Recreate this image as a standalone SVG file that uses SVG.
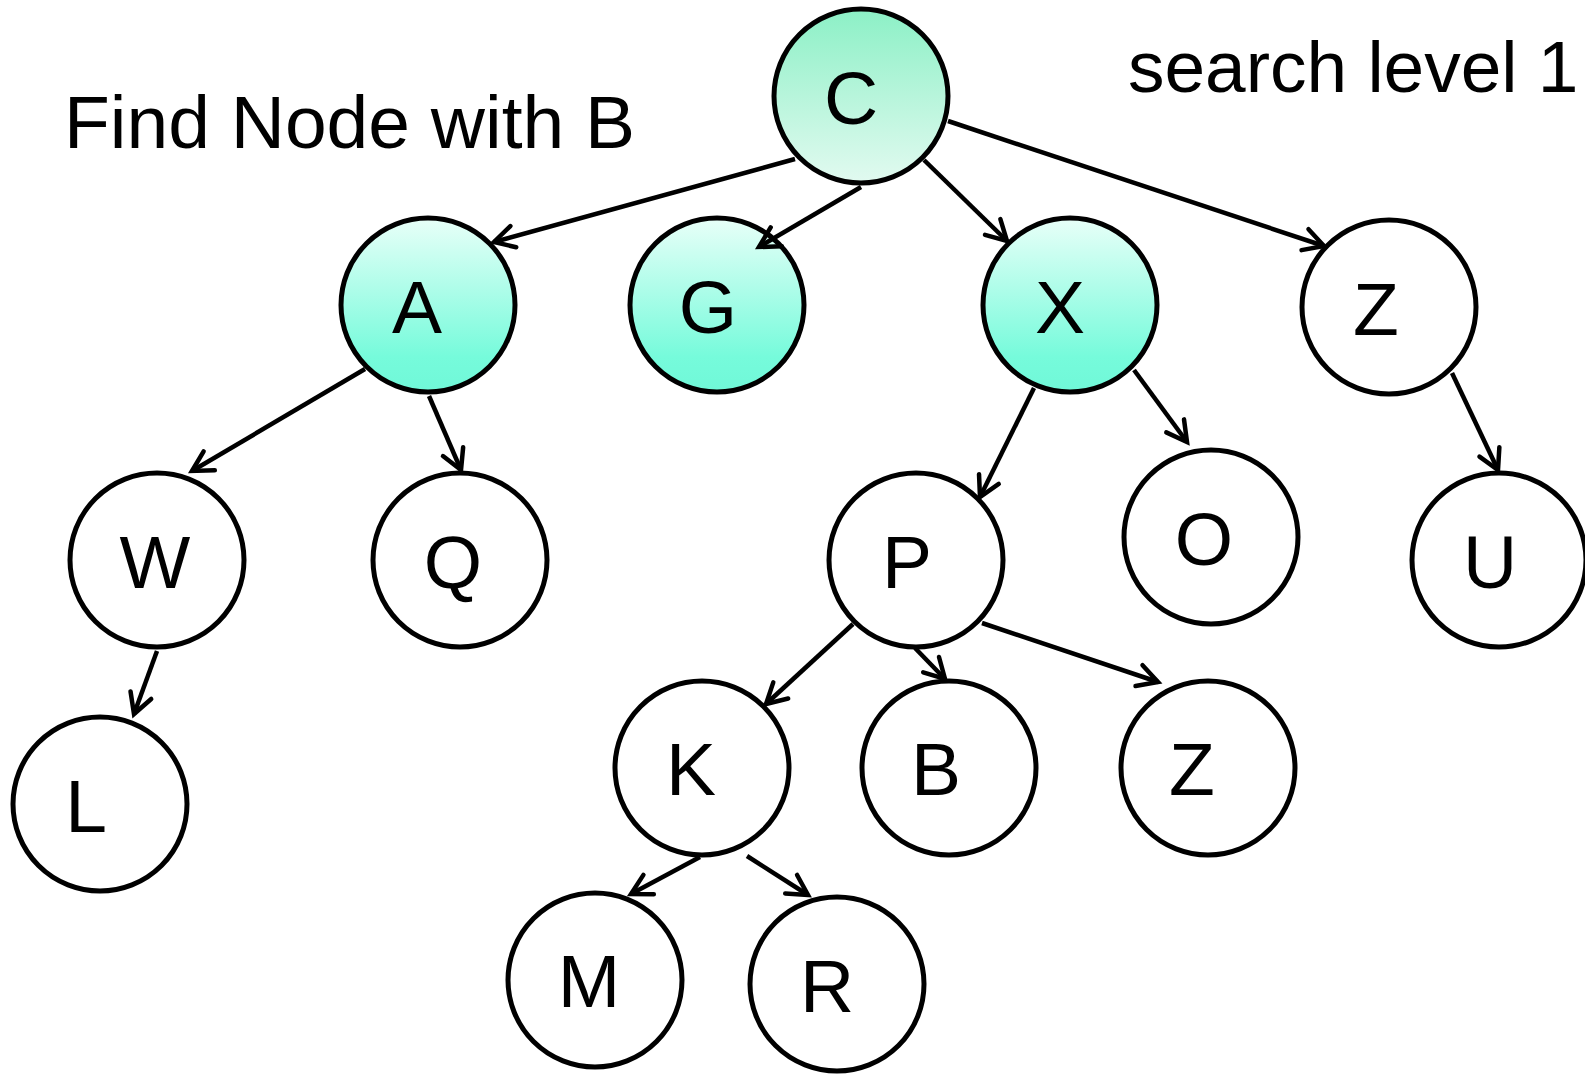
<svg xmlns="http://www.w3.org/2000/svg" width="1585" height="1077" viewBox="0 0 1585 1077">
  <style>
    .node circle { stroke: #000; stroke-width: 5; fill: #fff; }
    .node text, .label { font-family: "Liberation Sans", Arial, sans-serif; font-size: 75px; fill: #000; }
    .node text { text-anchor: middle; }
    .label.small { font-size: 73px; }
    .edges line { stroke: #000; stroke-width: 4.5; marker-end: url(#arr); }
    .root circle { fill: url(#rootFill); }
    .lvl1 circle { fill: url(#lvl1Fill); }
  </style>
  <defs>
    <linearGradient id="rootFill" x1="0" y1="0" x2="0" y2="1">
      <stop offset="0" stop-color="#8cf0c6"/>
      <stop offset="1" stop-color="#e2faf0"/>
    </linearGradient>
    <linearGradient id="lvl1Fill" x1="0" y1="0" x2="0" y2="1">
      <stop offset="0" stop-color="#e8fff8"/>
      <stop offset="0.8" stop-color="#76fbdb"/>
      <stop offset="1" stop-color="#70f8d8"/>
    </linearGradient>
    <marker id="arr" markerUnits="userSpaceOnUse" orient="auto" overflow="visible" markerWidth="1" markerHeight="1">
      <path d="M-20,-11 L0,0 L-20,11" fill="none" stroke="#000" stroke-width="4.5" stroke-linecap="round"/>
    </marker>
  </defs>

  <rect width="1585" height="1077" fill="#fff"/>

  <text class="label" x="64" y="148">Find Node with B</text>
  <text class="label small" x="1128" y="92">search level 1</text>

  <!-- tree nodes -->
  <g id="node-C" class="node root"><circle cx="861" cy="96" r="87"/><text x="851" y="124">C</text></g>
  <g id="node-A" class="node lvl1"><circle cx="428" cy="305" r="87"/><text x="417" y="333">A</text></g>
  <g id="node-G" class="node lvl1"><circle cx="717" cy="305" r="87"/><text x="708" y="333">G</text></g>
  <g id="node-X" class="node lvl1"><circle cx="1070" cy="305" r="87"/><text x="1060" y="333">X</text></g>
  <g id="node-Z1" class="node"><circle cx="1389" cy="307" r="87"/><text x="1376" y="335">Z</text></g>
  <g id="node-W" class="node"><circle cx="157" cy="560" r="87"/><text x="155" y="588">W</text></g>
  <g id="node-Q" class="node"><circle cx="460" cy="560" r="87"/><text x="453" y="588">Q</text></g>
  <g id="node-L" class="node"><circle cx="100" cy="804" r="87"/><text x="86" y="832">L</text></g>
  <g id="node-P" class="node"><circle cx="916" cy="560" r="87"/><text x="907" y="588">P</text></g>
  <g id="node-O" class="node"><circle cx="1211" cy="537" r="87"/><text x="1204" y="565">O</text></g>
  <g id="node-U" class="node"><circle cx="1499" cy="560" r="87"/><text x="1490" y="588">U</text></g>
  <g id="node-K" class="node"><circle cx="702" cy="768" r="87"/><text x="691" y="795">K</text></g>
  <g id="node-B" class="node"><circle cx="949" cy="768" r="87"/><text x="936" y="795">B</text></g>
  <g id="node-Z2" class="node"><circle cx="1208" cy="768" r="87"/><text x="1192" y="795">Z</text></g>
  <g id="node-M" class="node"><circle cx="595" cy="980" r="87"/><text x="589" y="1007">M</text></g>
  <g id="node-R" class="node"><circle cx="837" cy="984" r="87"/><text x="827" y="1012">R</text></g>

  <!-- parent to child connectors -->
  <g id="edges" class="edges">
    <line x1="795" y1="159" x2="494" y2="242"/>
    <line x1="861" y1="187" x2="759" y2="247"/>
    <line x1="924" y1="160" x2="1007" y2="241"/>
    <line x1="948" y1="121" x2="1324" y2="246"/>
    <line x1="365" y1="369" x2="192" y2="471"/>
    <line x1="429" y1="396" x2="461" y2="470"/>
    <line x1="157" y1="651" x2="134" y2="714"/>
    <line x1="1034" y1="388" x2="980" y2="497"/>
    <line x1="1134" y1="370" x2="1187" y2="442"/>
    <line x1="1452" y1="373" x2="1498" y2="470"/>
    <line x1="853" y1="624" x2="766" y2="704"/>
    <line x1="915" y1="648" x2="945" y2="679"/>
    <line x1="982" y1="623" x2="1158" y2="682"/>
    <line x1="700" y1="857" x2="631" y2="894"/>
    <line x1="747" y1="856" x2="808" y2="895"/>
  </g>
</svg>
